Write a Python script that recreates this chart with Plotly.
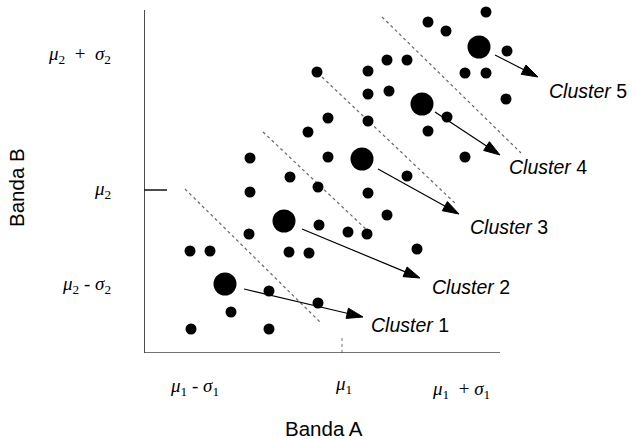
import plotly.graph_objects as go

# ---- data (x = Banda A units, y = Banda B units) ----
point_x = [46, 66, 87, 47, 125, 125,
           106, 106, 105, 146, 145, 165, 175, 174, 174, 204, 223, 273,
           164, 184, 173, 184, 224, 263, 224, 243,
           224, 243, 263, 224, 245, 303, 284, 321,
           284, 302, 342, 363, 321, 342, 362]
point_y = [102, 102, 41, 24, 62, 24,
           195, 161, 119, 176, 101, 100, 128, 166, 50, 121, 119, 104,
           221, 196, 281, 235, 232, 177, 160, 138,
           282, 293, 293, 259, 262, 236, 222, 196,
           331, 322, 341, 302, 280, 280, 254]

center_x = [81, 140, 218, 278, 335]
center_y = [69, 132, 194, 249, 306]

cluster_names = ["Cluster 1", "Cluster 2", "Cluster 3", "Cluster 4", "Cluster 5"]
arrow_start_x = [100, 158, 234, 291, 351]
arrow_start_y = [64, 124, 184, 241, 298]
arrow_tip_x = [219, 276, 315, 356, 394]
arrow_tip_y = [36, 75, 139, 198, 276]
label_x = [225, 286, 324, 363, 403]
label_y = [28, 66, 126, 186, 262]

# dotted boundaries between clusters
boundary_x0 = [41, 119, 178, 238]
boundary_y0 = [164, 221, 276, 336]
boundary_x1 = [177, 226, 313, 377]
boundary_y1 = [30, 120, 148, 200]

x_tick_vals = [50, 199, 317]
x_tick_text = ["<i>μ</i><sub>1</sub>\u00a0-\u00a0<i>σ</i><sub>1</sub>",
               "<i>μ</i><sub>1</sub>",
               "<i>μ</i><sub>1</sub>\u00a0\u00a0+\u00a0<i>σ</i><sub>1</sub>"]
x_tick_y = [-34, -32, -37]
y_tick_vals = [298, 163, 68]
y_tick_text = ["<i>μ</i><sub>2</sub>\u00a0\u00a0+\u00a0\u00a0<i>σ</i><sub>2</sub>",
               "<i>μ</i><sub>2</sub>",
               "<i>μ</i><sub>2</sub>\u00a0-\u00a0<i>σ</i><sub>2</sub>"]

x_axis_end = 356
y_axis_end = 343
mu2_value = 163
mu1_value = 198

X_MAX = 490.0
Y_MAX = 353.0


def px(v):
    return v / X_MAX


def py(v):
    return v / Y_MAX


fig = go.Figure()

# dotted boundaries
for i in range(len(boundary_x0)):
    fig.add_trace(go.Scatter(
        x=[boundary_x0[i], boundary_x1[i]], y=[boundary_y0[i], boundary_y1[i]],
        mode="lines", line=dict(color="#666666", width=1.2, dash="dot"),
        hoverinfo="skip", showlegend=False))

# small mu1 dotted mark
fig.add_trace(go.Scatter(x=[mu1_value, mu1_value], y=[0, 18], mode="lines",
                         line=dict(color="#777777", width=1, dash="dot"),
                         hoverinfo="skip", showlegend=False))

# axes lines
fig.add_trace(go.Scatter(x=[0, 0], y=[0, y_axis_end], mode="lines",
                         line=dict(color="#111111", width=1.5),
                         hoverinfo="skip", showlegend=False, cliponaxis=False))
fig.add_trace(go.Scatter(x=[0, x_axis_end], y=[0, 0], mode="lines",
                         line=dict(color="#444444", width=1.5),
                         hoverinfo="skip", showlegend=False, cliponaxis=False))
fig.add_trace(go.Scatter(x=[0, 23], y=[mu2_value, mu2_value], mode="lines",
                         line=dict(color="#111111", width=1.5),
                         hoverinfo="skip", showlegend=False))

# points
fig.add_trace(go.Scatter(x=point_x, y=point_y, mode="markers",
                         marker=dict(color="black", size=11, line=dict(width=0)),
                         showlegend=False, cliponaxis=False))
fig.add_trace(go.Scatter(x=center_x, y=center_y, mode="markers",
                         marker=dict(color="black", size=23, line=dict(width=0)),
                         showlegend=False, cliponaxis=False))

# arrows (line + arrow marker oriented along the segment)
for i in range(len(cluster_names)):
    fig.add_trace(go.Scatter(
        x=[arrow_start_x[i], arrow_tip_x[i]], y=[arrow_start_y[i], arrow_tip_y[i]],
        mode="lines+markers",
        line=dict(color="black", width=1.2),
        marker=dict(symbol="arrow", size=[0, 17], angleref="previous",
                    color="black", opacity=1, line=dict(width=1, color="black")),
        hoverinfo="skip", showlegend=False, cliponaxis=False))

annotations = []
for i in range(len(cluster_names)):
    num = cluster_names[i].split(" ")[1]
    annotations.append(dict(
        x=px(label_x[i]), y=py(label_y[i]), xref="paper", yref="paper",
        text="<i>Cluster</i>\u00a0" + num, showarrow=False,
        xanchor="left", yanchor="middle",
        font=dict(family="Liberation Sans, Arial", size=19.5, color="black")))

for v, t, yy in zip(x_tick_vals, x_tick_text, x_tick_y):
    annotations.append(dict(x=px(v), y=py(yy), xref="paper", yref="paper", text=t,
                            showarrow=False, xanchor="center", yanchor="middle",
                            font=dict(family="Liberation Serif, DejaVu Serif", size=19, color="black")))
for v, t in zip(y_tick_vals, y_tick_text):
    annotations.append(dict(x=px(-31), y=py(v), xref="paper", yref="paper", text=t,
                            showarrow=False, xanchor="right", yanchor="middle",
                            font=dict(family="Liberation Serif, DejaVu Serif", size=19, color="black")))

annotations.append(dict(x=px(180), y=py(-75), xref="paper", yref="paper", text="Banda A",
                        showarrow=False, xanchor="center", yanchor="middle",
                        font=dict(family="Liberation Sans, Arial", size=20.5, color="black")))
annotations.append(dict(x=px(-128), y=py(165), xref="paper", yref="paper", text="Banda B",
                        showarrow=False, textangle=-90, xanchor="center", yanchor="middle",
                        font=dict(family="Liberation Sans, Arial", size=20.5, color="black")))

fig.update_layout(
    width=634, height=439,
    margin=dict(l=144, r=0, t=0, b=86),
    paper_bgcolor="white", plot_bgcolor="white",
    xaxis=dict(range=[0, X_MAX], visible=False, fixedrange=True),
    yaxis=dict(range=[0, Y_MAX], visible=False, fixedrange=True),
    annotations=annotations,
    showlegend=False,
)

fig.write_html("out.html", config={"displayModeBar": False},
               post_script="document.body.style.margin='0';document.body.style.overflow='hidden';")
